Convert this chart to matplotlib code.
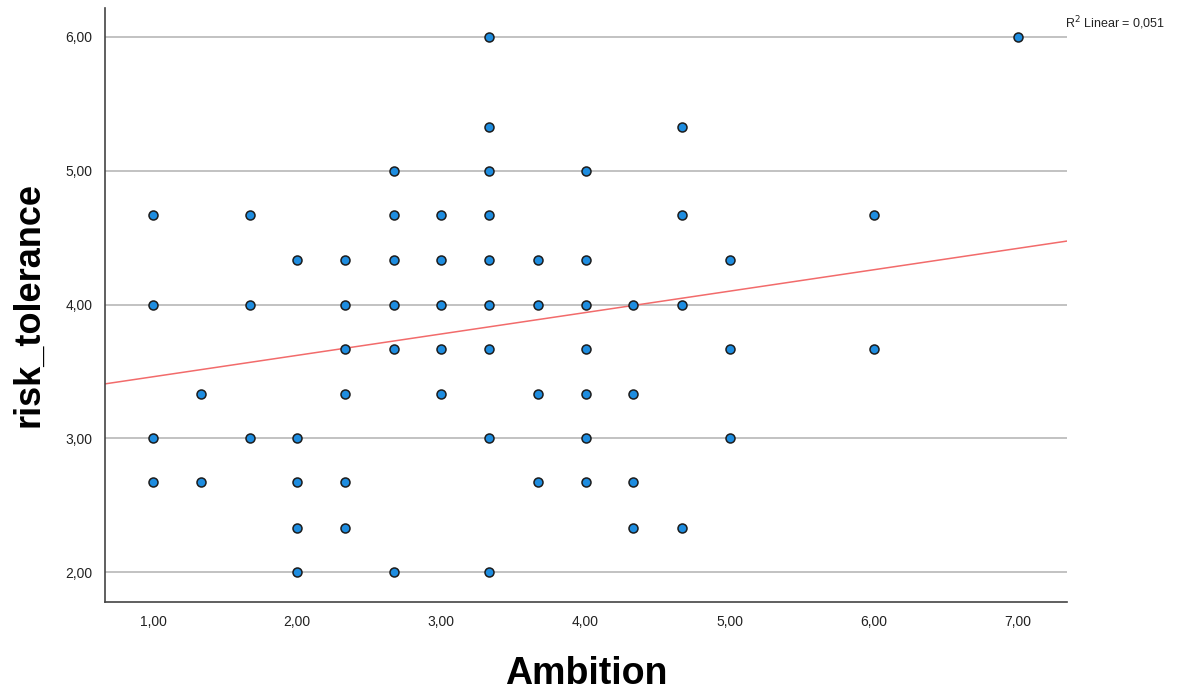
import numpy as np
import matplotlib.pyplot as plt

plt.rcParams['font.family'] = ['Liberation Sans', 'DejaVu Sans']

# Scatter data (Ambition vs risk_tolerance)
ambition = [1.00, 1.00, 1.00, 1.00,
            1.33, 1.33,
            1.67, 1.67, 1.67,
            2.00, 2.00, 2.00, 2.00, 2.00,
            2.33, 2.33, 2.33, 2.33, 2.33, 2.33,
            2.67, 2.67, 2.67, 2.67, 2.67, 2.67,
            3.00, 3.00, 3.00, 3.00, 3.00,
            3.33, 3.33, 3.33, 3.33, 3.33, 3.33, 3.33, 3.33, 3.33,
            3.67, 3.67, 3.67, 3.67,
            4.00, 4.00, 4.00, 4.00, 4.00, 4.00, 4.00,
            4.33, 4.33, 4.33, 4.33,
            4.67, 4.67, 4.67, 4.67,
            5.00, 5.00, 5.00,
            6.00, 6.00,
            7.00]
risk = [4.67, 4.00, 3.00, 2.67,
        3.33, 2.67,
        4.67, 4.00, 3.00,
        4.33, 3.00, 2.67, 2.33, 2.00,
        4.33, 4.00, 3.67, 3.33, 2.67, 2.33,
        5.00, 4.67, 4.33, 4.00, 3.67, 2.00,
        4.67, 4.33, 4.00, 3.67, 3.33,
        6.00, 5.33, 5.00, 4.67, 4.33, 4.00, 3.67, 3.00, 2.00,
        4.33, 4.00, 3.33, 2.67,
        5.00, 4.33, 4.00, 3.67, 3.33, 3.00, 2.67,
        4.00, 3.33, 2.67, 2.33,
        5.33, 4.67, 4.00, 2.33,
        4.33, 3.67, 3.00,
        4.67, 3.67,
        6.00]

# Linear fit line as shown
fit_intercept = 3.30
fit_slope = 0.16
r2_text = "R$^2$ Linear = 0,051"

xticks = [1, 2, 3, 4, 5, 6, 7]
yticks = [2, 3, 4, 5, 6]

fig = plt.figure(figsize=(11.99, 6.93), dpi=100)
ax = fig.add_axes([0.0876, 0.1313, 0.8023, 0.8572])

xmin, xmax = 0.667, 7.34
ax.set_xlim(xmin, xmax)
ax.set_ylim(1.776, 6.217)

for yv in yticks:
    ax.axhline(yv, color="#bdbdbd", linewidth=1.3, zorder=1)

xs = np.array([xmin, xmax])
ax.plot(xs, fit_intercept + fit_slope * xs, color="#f26b6b", linewidth=1.1, zorder=2)

ax.scatter(ambition, risk, s=42, color="#1e8de0", edgecolors="#1c1c1c",
           linewidths=1.1, zorder=3, clip_on=False)

ax.set_xticks(xticks)
ax.set_yticks(yticks)
ax.set_xticklabels([f"{v:.2f}".replace(".", ",") for v in xticks])
ax.set_yticklabels([f"{v:.2f}".replace(".", ",") for v in yticks])
ax.tick_params(length=0, labelsize=10, colors="#222222", pad=9)

ax.spines["top"].set_visible(False)
ax.spines["right"].set_visible(False)
for s in ["left", "bottom"]:
    ax.spines[s].set_color("#444444")
    ax.spines[s].set_linewidth(1.2)

ax.set_xlabel("Ambition", fontsize=27, fontweight="bold", labelpad=20)
ax.set_ylabel("risk_tolerance", fontsize=26, fontweight="bold", labelpad=14)

fig.text(0.888, 0.967, r2_text, fontsize=9, color="#222222", ha="left", va="center")

fig.savefig("out.png", dpi=100)
